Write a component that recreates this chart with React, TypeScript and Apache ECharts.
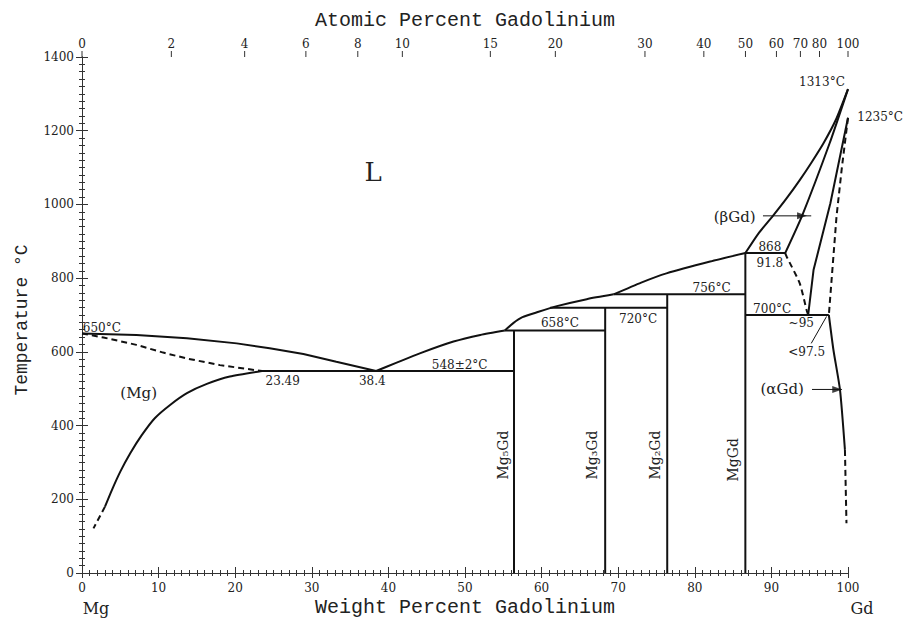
import React, { useEffect, useRef } from "react";
import * as echarts from "echarts";

// ---- axis data ----
const atomicTickLabels = [0, 2, 4, 6, 8, 10, 15, 20, 30, 40, 50, 60, 70, 80, 100];
const MG_MASS = 24.305;
const GD_MASS = 157.25;

// ---- phase boundaries: [wt% Gd, °C] ----
const liquidusMg = [[0, 650], [7.1, 646], [13.7, 637], [20.2, 623], [24.5, 610], [28.9, 594], [33.2, 573], [38.4, 548]];
const solidusMgDashed = [[0, 650], [2.8, 639], [7.1, 619], [10.6, 598], [13.7, 582], [18, 564], [23.49, 548]];
const solvusMg = [[23.49, 548], [19.3, 533], [16.3, 513], [13.7, 488], [11.5, 456], [9.5, 420], [7.8, 374], [6.3, 325], [5.0, 275], [3.9, 225], [3.0, 180]];
const solvusMgDashed = [[3.0, 180], [1.5, 121]];
const liquidusA = [[38.4, 548], [41, 570], [44.1, 596], [48.5, 628], [52, 646], [55.2, 658]];
const liquidusB = [[55.2, 658], [56.3, 678], [57.5, 694], [59.5, 708], [62, 724], [65.9, 743], [69.4, 756]];
const liquidusC = [[69.4, 756], [73, 788], [76.3, 813], [82, 845], [86.6, 868]];
const liquidusGd = [[86.6, 868], [88.3, 921], [90.2, 969], [92, 1017], [93.7, 1066], [95.3, 1116], [96.8, 1166], [98.4, 1229], [100, 1313]];
const solidusBetaGd = [[91.8, 868], [94, 969], [97.6, 1166], [100, 1313]];
const betaAlphaSolid = [[100, 1235], [97.7, 1003], [95.5, 822], [94.8, 700]];
const betaAlphaDashed = [[100, 1235], [99.2, 1100], [98.5, 967], [97.5, 700]];
const betaSolvusDashed = [[91.8, 868], [92, 858], [93.7, 786], [94.6, 713], [94.8, 700]];
const alphaSolvus = [[97.5, 700], [98.1, 605], [98.96, 496], [99.6, 334]];
const alphaSolvusDashed = [[99.6, 334], [99.8, 135]];

const eutectic548 = [[23.49, 548], [56.4, 548]];
const peritectic658 = [[55.2, 658], [68.3, 658]];
const peritectic720 = [[61.1, 720], [76.4, 720]];
const peritectic756 = [[69.4, 756], [86.6, 756]];
const peritectic868 = [[86.6, 868], [91.8, 868]];
const eutectoid700 = [[86.6, 700], [97.5, 700]];

const mg5gd = [[56.4, 0], [56.4, 658]];
const mg3gd = [[68.3, 0], [68.3, 720]];
const mg2gd = [[76.4, 0], [76.4, 756]];
const mggd = [[86.6, 0], [86.6, 868]];

const betaArrow = [[88.9, 969], [95.2, 969]];
const alphaArrow = [[95.3, 498], [99.2, 498]];
const arrowHeads = [[94.0, 969], [98.6, 498]];
const leader975 = [[95.2, 623], [97.2, 696]];

// ---- annotations ----
const annotations = [
  { text: "L", x: 38.0, y: 1088, kind: "big" },
  { text: "(Mg)", x: 7.4, y: 488, kind: "phase" },
  { text: "650°C", x: 0.1, y: 665, kind: "left" },
  { text: "23.49", x: 26.2, y: 521, kind: "num" },
  { text: "38.4", x: 37.9, y: 521, kind: "num" },
  { text: "548±2°C", x: 49.3, y: 564, kind: "num" },
  { text: "658°C", x: 62.4, y: 678, kind: "num" },
  { text: "720°C", x: 72.6, y: 689, kind: "num" },
  { text: "756°C", x: 82.2, y: 773, kind: "num" },
  { text: "700°C", x: 90.1, y: 716, kind: "num" },
  { text: "868", x: 89.8, y: 884, kind: "num" },
  { text: "91.8", x: 89.8, y: 841, kind: "num" },
  { text: "~95", x: 93.9, y: 678, kind: "num" },
  { text: "<97.5", x: 94.6, y: 600, kind: "num" },
  { text: "(αGd)", x: 91.4, y: 499, kind: "phase" },
  { text: "(βGd)", x: 85.2, y: 966, kind: "phase" },
  { text: "1313°C", x: 96.6, y: 1332, kind: "num" },
  { text: "1235°C", x: 104.2, y: 1237, kind: "num" },
  { text: "Mg₅Gd", x: 55.0, y: 320, kind: "vert" },
  { text: "Mg₃Gd", x: 66.6, y: 320, kind: "vert" },
  { text: "Mg₂Gd", x: 74.8, y: 320, kind: "vert" },
  { text: "MgGd", x: 85.0, y: 307, kind: "vert" },
];

const INK = "#111";
const SERIF = '"DejaVu Serif", "Liberation Serif", serif';
const MONO = '"Liberation Mono", "DejaVu Sans Mono", monospace';

const atToWt = (a: number) => (100 * a * GD_MASS) / (a * GD_MASS + (100 - a) * MG_MASS);

function lineSeries(data: number[][], dashed = false, width = 2) {
  return {
    type: "line",
    data,
    symbol: "none",
    silent: true,
    z: 3,
    lineStyle: { color: INK, width, type: dashed ? [6, 4] : "solid" },
  };
}

function centeredText(text: string, x: number, y: number, fontFamily: string, fontSize: number, rotation = 0) {
  return {
    type: "text",
    x,
    y,
    rotation,
    style: {
      text,
      fontFamily,
      fontSize,
      fill: "#222",
      textAlign: "center",
      textVerticalAlign: "middle",
      align: "center",
      verticalAlign: "middle",
    },
  };
}

export default function App() {
  const ref = useRef<HTMLDivElement>(null);

  useEffect(() => {
    document.body.style.margin = "0";
    if (!ref.current) return;
    const chart = echarts.init(ref.current, undefined, { renderer: "svg" });

    const axisLineStyle = { show: true, lineStyle: { color: "#333", width: 1 } };
    const tickStyle = { color: "#333" };

    const option: any = {
      animation: false,
      backgroundColor: "#fff",
      grid: { left: 82, right: 59, top: 57, bottom: 46 },
      xAxis: [
        {
          type: "value",
          min: 0,
          max: 100,
          interval: 10,
          position: "bottom",
          axisLine: axisLineStyle,
          axisTick: { show: true, inside: true, length: 6, lineStyle: tickStyle },
          minorTick: { show: true, splitNumber: 10, length: 3, lineStyle: tickStyle },
          axisLabel: { fontFamily: SERIF, fontSize: 12, color: "#222", margin: 9, formatter: (v: number) => String(v) },
          splitLine: { show: false },
        },
        {
          type: "value",
          min: 0,
          max: 100,
          interval: 10,
          position: "top",
          axisLine: axisLineStyle,
          axisTick: { show: true, inside: true, length: 5, lineStyle: tickStyle },
          minorTick: { show: true, splitNumber: 10, length: 3, lineStyle: tickStyle },
          axisLabel: { show: false },
          splitLine: { show: false },
        },
      ],
      yAxis: [
        {
          type: "value",
          min: 0,
          max: 1400,
          interval: 200,
          position: "left",
          axisLine: axisLineStyle,
          axisTick: { show: true, inside: true, length: 6, lineStyle: tickStyle },
          minorTick: { show: true, splitNumber: 10, length: 3, lineStyle: tickStyle },
          axisLabel: { fontFamily: SERIF, fontSize: 12, color: "#222", margin: 8, formatter: (v: number) => String(v) },
          splitLine: { show: false },
        },
        {
          type: "value",
          min: 0,
          max: 1400,
          interval: 200,
          position: "right",
          axisLine: axisLineStyle,
          axisTick: { show: true, inside: true, length: 6, lineStyle: tickStyle },
          minorTick: { show: true, splitNumber: 10, length: 3, lineStyle: tickStyle },
          axisLabel: { show: false },
          splitLine: { show: false },
        },
      ],
      graphic: [
        centeredText("Atomic Percent Gadolinium", 465, 20, MONO, 20),
        centeredText("Weight Percent Gadolinium", 465, 607, MONO, 20),
        centeredText("Temperature °C", 22, 320, MONO, 18, Math.PI / 2),
        centeredText("Mg", 96, 608, SERIF, 16),
        centeredText("Gd", 862, 608, SERIF, 16),
      ],
      series: [
        lineSeries(liquidusMg),
        lineSeries(solidusMgDashed, true),
        { ...lineSeries(solvusMg), smooth: 0.2 },
        lineSeries(solvusMgDashed, true),
        { ...lineSeries(liquidusA), smooth: 0.2 },
        { ...lineSeries(liquidusB), smooth: 0.2 },
        { ...lineSeries(liquidusC), smooth: 0.2 },
        { ...lineSeries(liquidusGd), smooth: 0.2 },
        { ...lineSeries(solidusBetaGd), smooth: 0.2 },
        lineSeries(betaAlphaSolid),
        lineSeries(betaAlphaDashed, true),
        { ...lineSeries(betaSolvusDashed, true), smooth: 0.2 },
        { ...lineSeries(alphaSolvus), smooth: 0.2 },
        lineSeries(alphaSolvusDashed, true),
        lineSeries(eutectic548),
        lineSeries(peritectic658),
        lineSeries(peritectic720),
        lineSeries(peritectic756),
        lineSeries(peritectic868),
        lineSeries(eutectoid700),
        lineSeries(mg5gd),
        lineSeries(mg3gd),
        lineSeries(mg2gd),
        lineSeries(mggd),
        lineSeries(betaArrow, false, 1),
        lineSeries(alphaArrow, false, 1),
        lineSeries(leader975, false, 1),
        {
          type: "scatter",
          data: arrowHeads,
          symbol: "triangle",
          symbolSize: [7, 10],
          symbolRotate: -90,
          itemStyle: { color: INK },
          silent: true,
          z: 4,
        },
        {
          type: "custom",
          clip: false,
          silent: true,
          z: 5,
          data: atomicTickLabels.map((a, i) => [atToWt(a), 1400, i]),
          renderItem: (params: any, api: any) => {
            const p = api.coord([api.value(0), api.value(1)]);
            const i = api.value(2);
            return {
              type: "group",
              children: [
                {
                  type: "line",
                  shape: { x1: p[0], y1: p[1], x2: p[0], y2: p[1] - 6 },
                  style: { stroke: "#333", lineWidth: 1 },
                },
                {
                  type: "text",
                  x: p[0],
                  y: p[1] - 7,
                  style: {
                    text: String(atomicTickLabels[i]),
                    fontFamily: SERIF,
                    fontSize: 12,
                    fill: "#222",
                    textAlign: "center",
                    textVerticalAlign: "bottom",
                    align: "center",
                    verticalAlign: "bottom",
                  },
                },
              ],
            };
          },
        },
        {
          type: "custom",
          clip: false,
          silent: true,
          z: 5,
          data: annotations.map((a, i) => [a.x, a.y, i]),
          renderItem: (params: any, api: any) => {
            const p = api.coord([api.value(0), api.value(1)]);
            const a = annotations[api.value(2)];
            let fontSize = 12;
            let align = "center";
            let rotation = 0;
            if (a.kind === "big") fontSize = 26;
            if (a.kind === "phase") fontSize = 15;
            if (a.kind === "vert") {
              fontSize = 14;
              rotation = Math.PI / 2;
            }
            if (a.kind === "left") align = "left";
            return {
              type: "text",
              x: p[0],
              y: p[1],
              rotation,
              style: {
                text: a.text,
                fontFamily: SERIF,
                fontSize,
                fill: "#222",
                textAlign: align,
                textVerticalAlign: "middle",
                align,
                verticalAlign: "middle",
              },
            };
          },
        },
      ],
    };

    chart.setOption(option);
    return () => chart.dispose();
  }, []);

  return <div ref={ref} style={{ width: 907, height: 619 }} />;
}
